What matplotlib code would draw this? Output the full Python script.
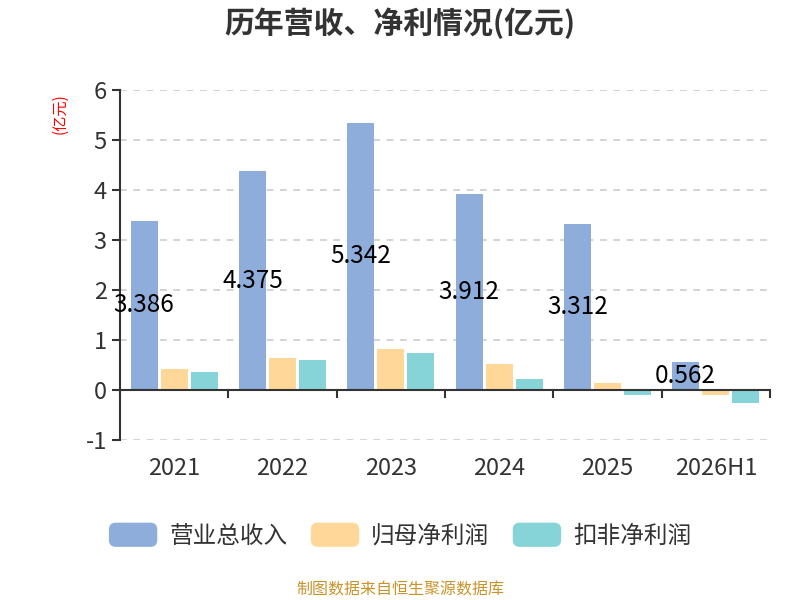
import matplotlib
matplotlib.use("Agg")
import matplotlib.pyplot as plt
import numpy as np
from matplotlib.patches import FancyBboxPatch, Patch
from matplotlib.legend_handler import HandlerPatch

plt.rcParams['font.family'] = ['Noto Sans CJK SC', 'DejaVu Sans']

categories = ['2021', '2022', '2023', '2024', '2025', '2026H1']
revenue = [3.386, 4.375, 5.342, 3.912, 3.312, 0.562]
net_profit = [0.41, 0.63, 0.81, 0.52, 0.13, -0.10]
deducted_profit = [0.35, 0.59, 0.73, 0.21, -0.11, -0.27]
series_names = ['营业总收入', '归母净利润', '扣非净利润']
colors = ['#8EADDA', '#FFD899', '#86D4D8']

fig = plt.figure(figsize=(8, 6), dpi=100)
ax = fig.add_axes([0.15, 0.2667, 0.8125, 0.5833])

x = np.arange(len(categories))
w = 0.25
step = 0.278
ax.bar(x - step, revenue, w, color=colors[0], zorder=3)
ax.bar(x, net_profit, w, color=colors[1], zorder=3)
ax.bar(x + step, deducted_profit, w, color=colors[2], zorder=3)

for xi, v in zip(x, revenue):
    ax.text(xi - step, v / 2, f'{v:.3f}', ha='center', va='center', fontsize=17.5,
            color='#000000', zorder=4)

ax.set_xlim(-0.5, len(categories) - 0.5)
ax.set_ylim(-1, 6)
ax.set_yticks(range(-1, 7))
ax.set_yticklabels([str(t) for t in range(-1, 7)])
ax.yaxis.grid(True, linestyle=(0, (4, 4)), color='#cccccc', linewidth=1.2, zorder=0)
ax.set_axisbelow(True)

for s in ['top', 'right', 'bottom']:
    ax.spines[s].set_visible(False)
ax.spines['left'].set_color('#333333')
ax.spines['left'].set_linewidth(1.5)
ax.axhline(0, color='#333333', linewidth=1.5, zorder=5)

ax.set_xticks(x)
ax.set_xticklabels(categories)
ax.tick_params(axis='x', which='major', length=0, labelsize=17, labelcolor='#333333', pad=12)
for xm in np.arange(-0.5, len(categories)):
    ax.plot([xm, xm], [0, -0.15], color='#333333', linewidth=1.5, zorder=5, clip_on=False)
ax.tick_params(axis='y', length=6, width=1.5, color='#333333', labelsize=17, labelcolor='#333333')

fig.text(0.075, 0.81, '(亿元)', rotation=90, color='red', fontsize=11, ha='center', va='center')

fig.text(0.5, 0.962, '历年营收、净利情况(亿元)', ha='center', va='center', fontsize=21.5,
         fontweight='bold', color='#333333')

class RoundHandler(HandlerPatch):
    def create_artists(self, legend, orig_handle, xdescent, ydescent, width, height, fontsize, trans):
        p = FancyBboxPatch((-xdescent, -ydescent), width, height,
                           boxstyle='round,pad=0,rounding_size=5',
                           facecolor=orig_handle.get_facecolor(), edgecolor='none', transform=trans)
        return [p]

handles = [Patch(facecolor=c) for c in colors]
fig.legend(handles, series_names, loc='center', bbox_to_anchor=(0.5, 0.108), ncol=3, frameon=False,
           fontsize=17, handlelength=2.05, handleheight=1.2, columnspacing=1.0, handletextpad=0.5,
           labelcolor='#333333',
           handler_map={Patch: RoundHandler()})

fig.text(0.5, 0.017, '制图数据来自恒生聚源数据库', ha='center', va='center', fontsize=11.5,
         color='#C8942A')

fig.savefig('out.png', dpi=100)
